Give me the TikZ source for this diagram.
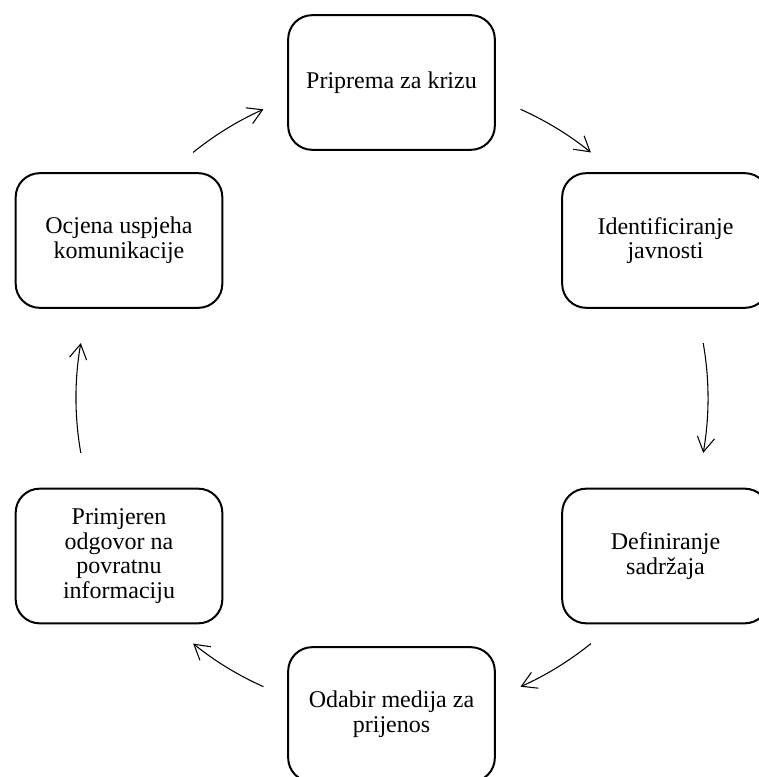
\documentclass[tikz,border=0pt]{standalone}
\usepackage{fontspec}
\setmainfont{Liberation Serif}
\usetikzlibrary{arrows.meta}
\begin{document}
\begin{tikzpicture}[x=0.75pt,y=0.75pt,
  stepbox/.style={draw=black, line width=1.5pt, rounded corners=18pt,
    minimum width=155pt, minimum height=101pt, align=center, inner sep=0pt,
    font=\fontsize{18}{18.5}\selectfont},
  arr/.style={line width=0.8pt, -{Straight Barb[length=11pt,width=13pt]}}]
\useasboundingbox (0,0) rectangle (758,-777);
\node[stepbox] (a) at (391.5,-82.5) {Priprema za krizu};
\node[stepbox] (b) at (665.5,-240.5) {Identificiranje\\javnosti};
\node[stepbox] (c) at (665.5,-556) {Definiranje\\sadržaja};
\node[stepbox] (d) at (391.5,-714.5) {Odabir medija za\\prijenos};
\node[stepbox] (e) at (119,-556) {Primjeren\\odgovor na\\povratnu\\informaciju};
\node[stepbox] (f) at (119,-240.5) {Ocjena uspjeha\\komunikacije};
\coordinate (ctr) at (392,-398);
\path (ctr) ++(66:237pt) coordinate (s1);
\path (ctr) ++(10:237pt) coordinate (s2);
\path (ctr) ++(-51:237pt) coordinate (s3);
\path (ctr) ++(-114:237pt) coordinate (s4);
\path (ctr) ++(190:237pt) coordinate (s5);
\path (ctr) ++(129:237pt) coordinate (s6);
\draw[arr] (s1) arc[start angle=66, end angle=51, radius=237pt];
\draw[arr] (s2) arc[start angle=10, end angle=-10, radius=237pt];
\draw[arr] (s3) arc[start angle=-51, end angle=-66, radius=237pt];
\draw[arr] (s4) arc[start angle=-114, end angle=-129, radius=237pt];
\draw[arr] (s5) arc[start angle=190, end angle=170, radius=237pt];
\draw[arr] (s6) arc[start angle=129, end angle=114, radius=237pt];
\end{tikzpicture}
\end{document}
